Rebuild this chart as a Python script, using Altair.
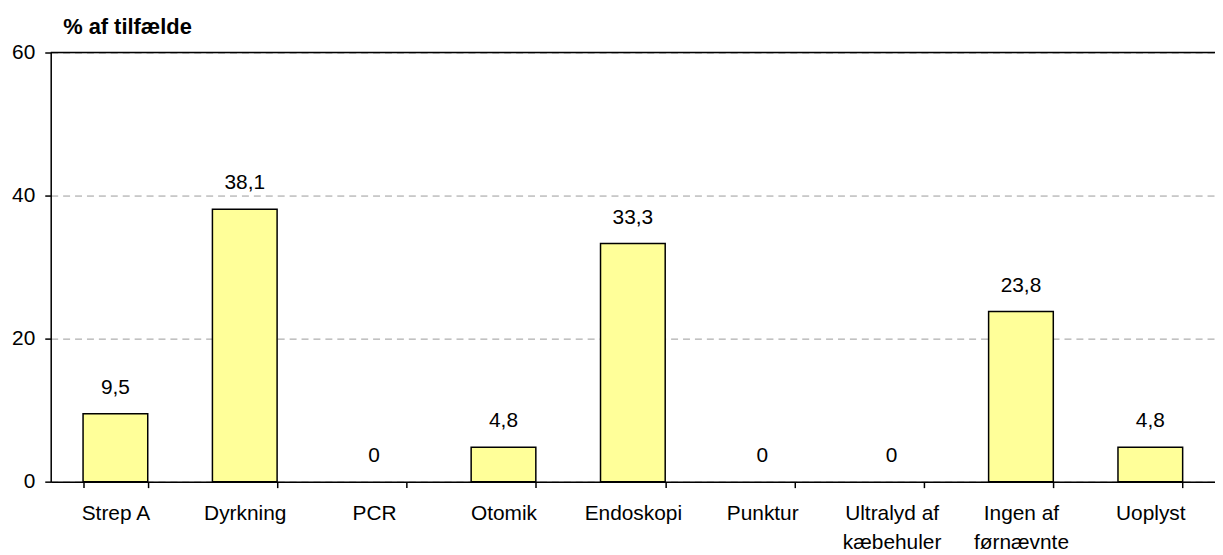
import altair as alt
import pandas as pd

categories = ["Strep A", "Dyrkning", "PCR", "Otomik", "Endoskopi", "Punktur",
              "Ultralyd af\nkæbehuler", "Ingen af\nførnævnte", "Uoplyst"]
values = [9.5, 38.1, 0, 4.8, 33.3, 0, 0, 23.8, 4.8]
y_ticks = [0, 20, 40, 60]
y_title = "% af tilfælde"

df = pd.DataFrame({"cat": categories, "val": values})

FONT = "Liberation Sans"
FS = 21

x_enc = alt.X("cat:N", sort=categories, title=None,
              scale=alt.Scale(paddingInner=0.5, paddingOuter=0.25),
              axis=alt.Axis(labelAngle=0, labelExpr="split(datum.label, '\\n')",
                            labelBaseline="alphabetic", labelPadding=32,
                            labelLineHeight=29, labelFontSize=FS, labelFont=FONT,
                            labelColor="black", tickColor="black", tickSize=6,
                            tickWidth=1.5, domainColor="black", domainWidth=1.5,
                            tickBand="extent", grid=False))
y_scale = alt.Scale(domain=[0, 60], nice=False)
y_enc = alt.Y("val:Q", scale=y_scale,
              axis=alt.Axis(values=y_ticks, title=y_title, titleAngle=0,
                            titleAlign="left", titleBaseline="alphabetic",
                            titleX=12, titleY=-19, titleFont=FONT, titleFontSize=22,
                            titleFontWeight="bold", titleColor="black",
                            labelFont=FONT, labelFontSize=FS, labelColor="black",
                            labelPadding=10, tickColor="black", tickSize=6,
                            tickWidth=1.5, domainColor="black", domainWidth=1.5,
                            grid=True, gridDash=[7, 5], gridColor="#9a9a9a",
                            gridWidth=1))

bars = alt.Chart(df).transform_filter("datum.val > 0").mark_bar(
    color="#FFFF99", stroke="black", strokeWidth=1.5).encode(x=x_enc, y=y_enc)

labels = alt.Chart(df).transform_calculate(
    txt="datum.val == 0 ? '0' : replace(format(datum.val, '.1f'), '.', ',')"
).mark_text(font=FONT, fontSize=FS, color="black", baseline="alphabetic", dy=-20).encode(
    x=alt.X("cat:N", sort=categories), y=alt.Y("val:Q", scale=y_scale), text="txt:N")

top = alt.Chart(pd.DataFrame({"t": [60]})).mark_rule(color="black", strokeWidth=1.5).encode(
    y=alt.Y("t:Q", scale=y_scale))

chart = alt.layer(bars, labels, top).properties(
    width=1172, height=432,
    autosize=alt.AutoSizeParams(type="none"),
    padding={"left": 43, "top": 43, "right": 0, "bottom": 70},
).configure_view(stroke=None).configure(background="white")

chart.save("out.html", embed_options={"renderer": "svg", "actions": False})
